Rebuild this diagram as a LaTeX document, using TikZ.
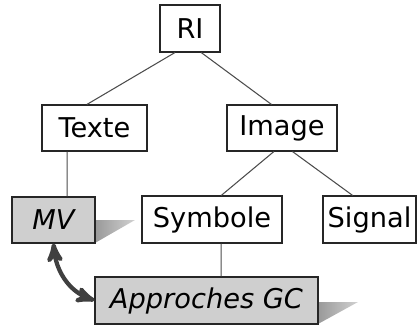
\documentclass[tikz,border=0pt]{standalone}
\usepackage{fontspec}
\setmainfont{DejaVu Sans}
\usetikzlibrary{positioning, arrows}
\tikzset{>=stealth',
box/.style={draw=black!85, fill=white, inner sep=0pt, line width=0.6pt,
  font=\fontsize{15.5}{18}\selectfont},
greybox/.style={box, fill=black!19, font=\fontsize{15.5}{18}\selectfont\itshape},
link/.style={draw=black!70, line width=0.6pt},
%shadow/.style={left color=black!38, right color=black!18},
}

\begin{document}
\begin{tikzpicture}[x=0.02cm,y=-0.02cm]
\useasboundingbox (0,0) rectangle (417,325);
% shadows
\shade[left color=black!40, right color=black!18] (95,220) -- (135,220) -- (95,243) -- cycle;
\shade[left color=black!40, right color=black!18] (318,302) -- (358,302) -- (318,324) -- cycle;

\node[box,minimum width=1.2cm,minimum height=0.94cm] (ri) at (190,28.5) {RI};
\node[box,minimum width=2.1cm,minimum height=0.92cm] (texte) at (94.5,128) {Texte};
\node[box,minimum width=2.2cm,minimum height=0.92cm] (image) at (282,128) {Image};
\node[greybox,minimum width=1.66cm,minimum height=0.92cm] (mv) at (53.5,220) {MV};
\node[box,minimum width=2.8cm,minimum height=0.94cm] (symb) at (212,219.5) {Symbole};
\node[box,minimum width=1.86cm,minimum height=0.94cm] (sig) at (369.5,219.5) {Signal};
\node[greybox,minimum width=4.46cm,minimum height=0.94cm] (gc) at (206.5,300.5) {Approches GC};

\draw[link]
(ri.-122) -- (texte.108)
(ri.-65) -- (image.114)
(image.-109) -- (symb.69)
(image.-66) -- (sig.125)
(mv.60) -- (mv.60 |- texte.south)
(symb.-69) -- (symb.-69 |- gc.north)
;
\draw[<->, line width=2.4pt, black!75] (mv.south) to[out=-85, in=160] (gc.west);
\end{tikzpicture}
\end{document}
